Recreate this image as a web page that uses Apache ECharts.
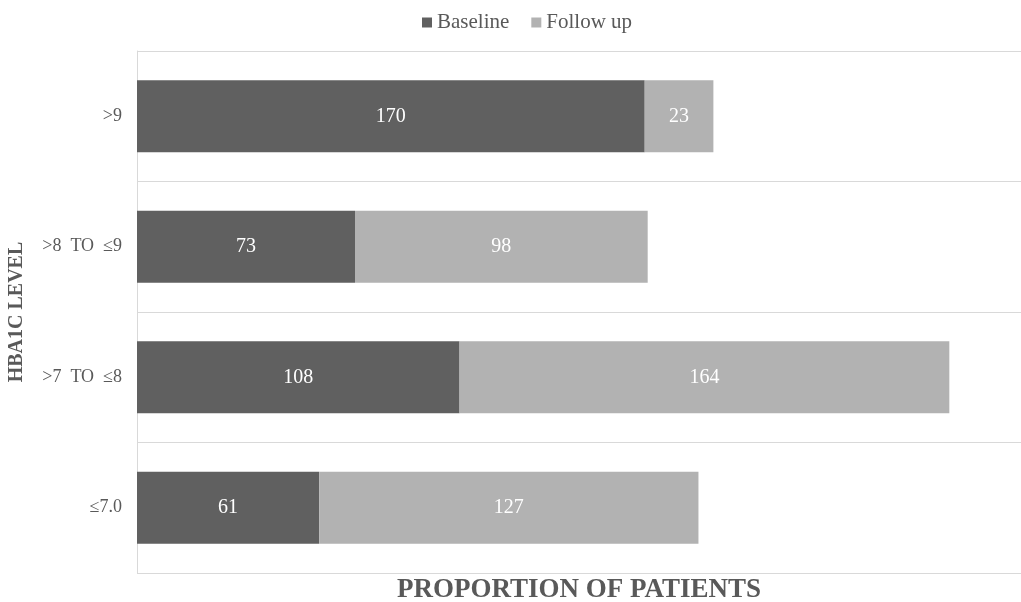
<!DOCTYPE html>
<html>
<head>
<meta charset="utf-8">
<script src="https://cdn.jsdelivr.net/npm/echarts@6/dist/echarts.min.js"></script>
<style>
  html, body { margin: 0; padding: 0; background: #fff; }
  #chart { width: 1021px; height: 602px; }
</style>
</head>
<body>
<div id="chart"></div>
<script>
// categories bottom -> top
var levels = ['≤7.0', '>7  TO  ≤8', '>8  TO  ≤9', '>9'];
var baseline = [61, 108, 73, 170];
var followUp = [127, 164, 98, 23];

var chart = echarts.init(document.getElementById('chart'));
var font = 'Liberation Serif';

chart.setOption({
  textStyle: { fontFamily: font },
  color: ['#606060', '#b2b2b2'],
  legend: {
    top: 7,
    left: 417,
    icon: 'rect',
    itemWidth: 10,
    itemHeight: 10,
    itemGap: 22,
    textStyle: { fontFamily: font, fontSize: 21, color: '#595959' },
    data: ['Baseline', 'Follow up']
  },
  grid: { left: 137, right: 0, top: 51, bottom: 29, outerBoundsMode: 'none' },
  xAxis: {
    type: 'value',
    min: 0,
    max: 296,
    axisLine: { show: false },
    axisTick: { show: false },
    axisLabel: { show: false },
    splitLine: { show: false },
    name: 'PROPORTION OF PATIENTS',
    nameLocation: 'middle',
    nameGap: 4,
    nameTextStyle: { fontFamily: font, fontSize: 27, fontWeight: 'bold', color: '#595959' }
  },
  yAxis: {
    type: 'category',
    data: levels,
    axisLine: { show: true, lineStyle: { color: '#d9d9d9', width: 1 } },
    axisTick: { show: false },
    axisLabel: { margin: 15, fontFamily: font, fontSize: 18, color: '#595959' },
    splitLine: { show: true, lineStyle: { color: '#d9d9d9', width: 1 } },
    name: 'HBA1C LEVEL',
    nameLocation: 'middle',
    nameRotate: 90,
    nameGap: 110,
    nameTextStyle: { fontFamily: font, fontSize: 20, fontWeight: 'bold', color: '#595959' }
  },
  series: [
    {
      name: 'Baseline',
      type: 'bar',
      stack: 'total',
      barWidth: '55%',
      data: baseline,
      label: { show: true, position: 'inside', color: '#fff', fontFamily: font, fontSize: 20 }
    },
    {
      name: 'Follow up',
      type: 'bar',
      stack: 'total',
      barWidth: '55%',
      data: followUp,
      label: { show: true, position: 'inside', color: '#fff', fontFamily: font, fontSize: 20 }
    }
  ]
});
</script>
</body>
</html>
